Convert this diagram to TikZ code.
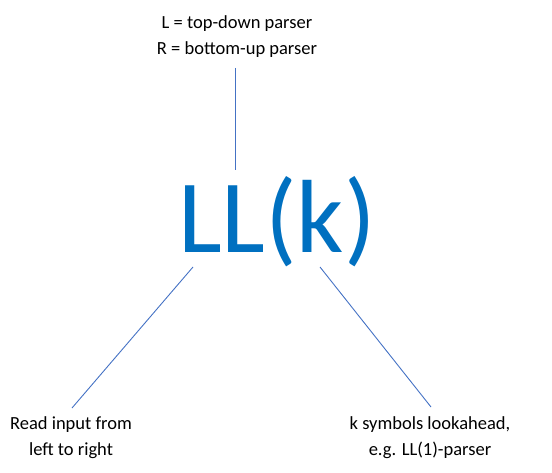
\documentclass[tikz,border=0pt]{standalone}
\usepackage{fontspec}
\setmainfont{Carlito}
\definecolor{bigblue}{HTML}{0070C0}
\definecolor{linkblue}{HTML}{4472C4}
\begin{document}
\begin{tikzpicture}[x=1pt,y=-1pt,
  lbl/.style={align=center,inner sep=0pt,font=\fontsize{18.5}{26}\selectfont,anchor=base},
  link/.style={draw=linkblue,line width=0.9pt}]
\useasboundingbox (0,0) rectangle (552,473);
\node[lbl] (top) at (237,55) {L = top-down parser\\R = bottom-up parser};
\node[anchor=base,inner sep=0pt,text=bigblue,font=\fontsize{104}{104}\selectfont] (ll) at (277,253) {LL(k)};
\node[lbl] (left) at (71,455) {Read input from\\left to right};
\node[lbl] (right) at (430,455) {k symbols lookahead,\\e.g. LL(1)-parser};
\coordinate (t1) at (235,68);
\coordinate (t2) at (235,170);
\coordinate (l1) at (193,267);
\coordinate (l2) at (72,408);
\coordinate (r1) at (320,267);
\coordinate (r2) at (431,407);
\draw[link] (t1) -- (t2);
\draw[link] (l1) -- (l2);
\draw[link] (r1) -- (r2);
\end{tikzpicture}
\end{document}
